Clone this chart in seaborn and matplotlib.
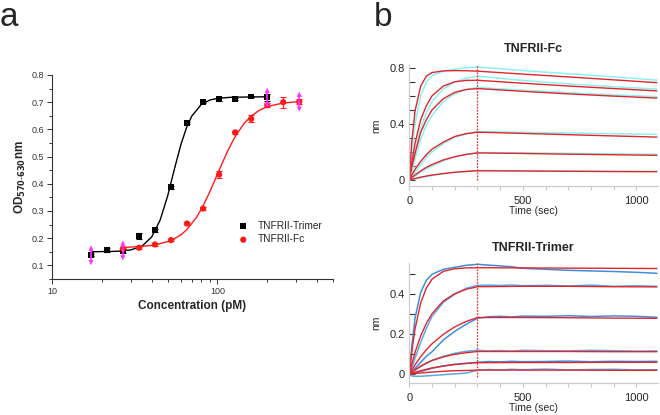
import numpy as np
import pandas as pd
import seaborn as sns
import matplotlib.pyplot as plt
from matplotlib.ticker import FixedLocator, MultipleLocator, NullFormatter, LogLocator

# ---- panel a: cell assay (OD vs concentration) ----
trimer_conc = [17.2, 21.5, 26.8, 33.6, 41.9, 52.4, 65.5, 81.9, 102.4, 128, 160, 200]
trimer_od = [0.137, 0.157, 0.153, 0.208, 0.229, 0.387, 0.625, 0.701, 0.712, 0.712, 0.721, 0.718]
trimer_err = [0.004, 0.008, 0.006, 0.010, 0.005, 0.005, 0.004, 0.004, 0.006, 0.004, 0.003, 0.012]

fc_conc = [26.8, 33.6, 41.9, 52.4, 65.5, 81.9, 102.4, 128, 160, 200, 250, 312.5]
fc_od = [0.161, 0.165, 0.177, 0.193, 0.254, 0.309, 0.434, 0.589, 0.639, 0.689, 0.700, 0.702]
fc_err = [0.004, 0.004, 0.004, 0.005, 0.005, 0.006, 0.012, 0.006, 0.013, 0.008, 0.020, 0.008]

# fitted dose-response curves
trimer_fit_conc = [17.2, 25, 30, 35, 40, 45, 50, 55, 60, 65, 70, 80, 90, 100, 120, 150, 200]
trimer_fit_od = [0.150, 0.152, 0.157, 0.171, 0.204, 0.266, 0.355, 0.455, 0.542, 0.606,
                 0.649, 0.692, 0.708, 0.714, 0.718, 0.719, 0.720]
fc_fit_conc = [26.8, 33.6, 41.9, 52.4, 60, 65.5, 75, 81.9, 90, 102.4, 115, 128, 145, 160,
               180, 200, 250, 312.5]
fc_fit_od = [0.166, 0.169, 0.175, 0.191, 0.212, 0.232, 0.278, 0.319, 0.371, 0.450, 0.519,
             0.574, 0.622, 0.649, 0.671, 0.684, 0.697, 0.702]

# points marked with magenta arrows
flag_conc = [17.2, 26.8, 200, 312.5]
flag_od = [0.137, 0.155, 0.716, 0.702]

# ---- panel b: BLI sensorgrams ----
switch_time = 300
fit_time = [0, 10, 25, 50, 75, 100, 150, 200, 250, 300, 500, 700, 900, 1090]
obs_time = [0, 10, 25, 50, 75, 100, 150, 200, 250, 300, 350, 400, 450, 500, 600, 700,
            800, 900, 1000, 1090]

fc_fit = [
    [0, 0.26, 0.49, 0.67, 0.74, 0.766, 0.778, 0.78, 0.779, 0.776, 0.755, 0.735, 0.714, 0.694],
    [0, 0.12, 0.26, 0.43, 0.53, 0.60, 0.67, 0.70, 0.71, 0.711, 0.69, 0.67, 0.652, 0.635],
    [0, 0.087, 0.19, 0.34, 0.43, 0.50, 0.58, 0.625, 0.645, 0.652, 0.632, 0.614, 0.598, 0.584],
    [0, 0.032, 0.076, 0.133, 0.18, 0.22, 0.27, 0.31, 0.33, 0.341, 0.332, 0.323, 0.314, 0.306],
    [0, 0.015, 0.036, 0.065, 0.09, 0.11, 0.143, 0.166, 0.182, 0.193, 0.189, 0.184, 0.18, 0.176],
    [0, 0.004, 0.01, 0.02, 0.028, 0.035, 0.046, 0.055, 0.061, 0.066, 0.064, 0.062, 0.06, 0.059],
]
fc_obs = [
    [0, 0.18, 0.40, 0.60, 0.70, 0.745, 0.775, 0.79, 0.80, 0.805, 0.80, 0.793, 0.787, 0.78,
     0.769, 0.758, 0.746, 0.735, 0.723, 0.712],
    [0, 0.08, 0.20, 0.37, 0.48, 0.56, 0.65, 0.70, 0.725, 0.74, 0.733, 0.725, 0.717, 0.71,
     0.697, 0.685, 0.675, 0.665, 0.656, 0.648],
    [0, 0.06, 0.15, 0.29, 0.39, 0.46, 0.56, 0.615, 0.645, 0.66, 0.655, 0.65, 0.645, 0.64,
     0.631, 0.622, 0.614, 0.607, 0.6, 0.594],
    [0, 0.02, 0.055, 0.11, 0.16, 0.20, 0.26, 0.305, 0.33, 0.345, 0.344, 0.343, 0.341, 0.34,
     0.337, 0.335, 0.332, 0.33, 0.327, 0.325],
    [0, 0.01, 0.027, 0.055, 0.08, 0.10, 0.137, 0.165, 0.183, 0.195, 0.195, 0.194, 0.194, 0.194,
     0.192, 0.19, 0.188, 0.186, 0.184, 0.183],
    [0, 0.003, 0.008, 0.016, 0.024, 0.032, 0.044, 0.054, 0.061, 0.067, 0.067, 0.066, 0.066, 0.066,
     0.065, 0.064, 0.064, 0.063, 0.062, 0.062],
]

trimer_fit = [
    [0, 0.105, 0.226, 0.357, 0.432, 0.476, 0.515, 0.528, 0.532, 0.533, 0.532, 0.531, 0.53, 0.529],
    [0, 0.047, 0.109, 0.192, 0.255, 0.303, 0.367, 0.403, 0.425, 0.438, 0.44, 0.44, 0.438, 0.437],
    [0, 0.02, 0.047, 0.088, 0.123, 0.153, 0.20, 0.237, 0.264, 0.284, 0.284, 0.283, 0.281, 0.28],
    [0, 0.0096, 0.023, 0.041, 0.056, 0.069, 0.087, 0.10, 0.108, 0.114, 0.114, 0.114, 0.113, 0.113],
    [0, 0.004, 0.01, 0.018, 0.025, 0.032, 0.041, 0.049, 0.054, 0.058, 0.059, 0.059, 0.06, 0.06],
    [0, 0.0015, 0.0035, 0.0065, 0.009, 0.011, 0.015, 0.018, 0.019, 0.021, 0.021, 0.021, 0.02, 0.02],
]
trimer_obs = [
    [0, 0.13, 0.28, 0.41, 0.47, 0.50, 0.525, 0.535, 0.545, 0.55, 0.546, 0.542, 0.538, 0.53,
     0.525, 0.52, 0.517, 0.514, 0.51, 0.505],
    [0, 0.03, 0.08, 0.16, 0.23, 0.29, 0.36, 0.40, 0.43, 0.445, 0.446, 0.444, 0.447, 0.443,
     0.445, 0.442, 0.446, 0.44, 0.443, 0.44],
    [0, 0.01, 0.03, 0.06, 0.09, 0.113, 0.172, 0.215, 0.25, 0.28, 0.288, 0.29, 0.287, 0.291,
     0.29, 0.293, 0.289, 0.292, 0.29, 0.285],
    [0, 0.008, 0.02, 0.038, 0.055, 0.07, 0.09, 0.105, 0.115, 0.12, 0.117, 0.119, 0.116, 0.12,
     0.118, 0.117, 0.12, 0.118, 0.116, 0.117],
    [0, 0.002, 0.006, 0.014, 0.022, 0.03, 0.042, 0.05, 0.055, 0.06, 0.064, 0.062, 0.065, 0.063,
     0.064, 0.066, 0.063, 0.065, 0.064, 0.065],
    [0, -0.008, -0.01, -0.01, -0.008, -0.006, -0.002, 0.002, 0.006, 0.02, 0.024, 0.022, 0.025,
     0.023, 0.026, 0.022, 0.024, 0.025, 0.022, 0.023],
]


def long_form(t, curves):
    parts = [pd.DataFrame({'time': t, 'nm': c, 'curve': i}) for i, c in enumerate(curves)]
    return pd.concat(parts, ignore_index=True)


sns.set_theme(style="ticks")
plt.rcParams['font.family'] = ['Liberation Sans', 'DejaVu Sans']

fig = plt.figure(figsize=(6.6, 4.15), dpi=100)
ax_a = fig.add_axes([0.0788, 0.3277, 0.4258, 0.4916])
ax_b1 = fig.add_axes([0.6202, 0.5518, 0.3768, 0.2916])
ax_b2 = fig.add_axes([0.6202, 0.0764, 0.3768, 0.2891])

# ---------------- panel a ----------------
ax = ax_a
sns.lineplot(x=trimer_fit_conc, y=trimer_fit_od, color='black', lw=1.0, ax=ax)
sns.lineplot(x=fc_fit_conc, y=fc_fit_od, color='#ff1a1a', lw=1.0, ax=ax)
ax.errorbar(trimer_conc, trimer_od, yerr=trimer_err, fmt='none', ecolor='black',
            elinewidth=0.8, capsize=2, capthick=0.8)
ax.errorbar(fc_conc, fc_od, yerr=fc_err, fmt='none', ecolor='#ff1a1a',
            elinewidth=0.8, capsize=2, capthick=0.8)
sns.scatterplot(x=trimer_conc, y=trimer_od, marker='s', s=18, color='black',
                edgecolor='none', label='TNFRII-Trimer', ax=ax, zorder=4)
sns.scatterplot(x=fc_conc, y=fc_od, marker='o', s=20, color='#ff1a1a',
                edgecolor='none', label='TNFRII-Fc', ax=ax, zorder=4)

flag_span = 0.027
ax.errorbar(flag_conc, flag_od, yerr=flag_span, fmt='none', ecolor='#ff33ff',
            elinewidth=1.2, zorder=5)
sns.scatterplot(x=flag_conc, y=np.array(flag_od) + flag_span, marker='^', s=14,
                color='#ff33ff', edgecolor='none', ax=ax, zorder=5)
sns.scatterplot(x=flag_conc, y=np.array(flag_od) - flag_span, marker='v', s=14,
                color='#ff33ff', edgecolor='none', ax=ax, zorder=5)

ax.set_xscale('log')
ax.set_xlim(10, 500)
ax.set_ylim(0.05, 0.8)
ax.xaxis.set_major_locator(FixedLocator([10, 100]))
ax.xaxis.set_major_formatter(plt.FixedFormatter(['10', '100']))
ax.xaxis.set_minor_locator(LogLocator(base=10, subs=np.arange(2, 10)))
ax.xaxis.set_minor_formatter(NullFormatter())
ax.yaxis.set_major_locator(FixedLocator([0.1, 0.2, 0.3, 0.4, 0.5, 0.6, 0.7, 0.8]))
ax.yaxis.set_minor_locator(MultipleLocator(0.05))
ax.tick_params(which='both', direction='out', colors='#333333', labelsize=6.5, width=0.7)
ax.tick_params(which='major', length=3.5, pad=2)
ax.tick_params(which='minor', length=2)
for s in ['top', 'right']:
    ax.spines[s].set_visible(False)
for s in ['left', 'bottom']:
    ax.spines[s].set_color('#333333')
    ax.spines[s].set_linewidth(0.8)
ax.set_xlabel('Concentration (pM)', fontsize=8.5, fontweight='bold', labelpad=3)
ax.set_ylabel('OD$_{\\mathbf{570\\text{-}630}}$nm', fontsize=8.5, fontweight='bold', labelpad=3)
leg = ax.legend(loc='lower left', bbox_to_anchor=(0.63, 0.15), frameon=False, fontsize=7.3,
                handletextpad=0.4, labelspacing=0.35, borderaxespad=0, markerscale=1.0)

# ---------------- panel b ----------------
panels = [
    (ax_b1, 'TNFRII-Fc', fc_fit, fc_obs, ['#8af2f4'], (-0.043, 0.82), [0, 0.4, 0.8]),
    (ax_b2, 'TNFRII-Trimer', trimer_fit, trimer_obs, ['#3d8fdc', '#59a9ec'], (-0.045, 0.555),
     [0, 0.2, 0.4]),
]
for ax, title, fits, obs, obs_colors, ylim, yticks in panels:
    obs_df = long_form(obs_time, obs)
    for i in range(len(obs)):
        sns.lineplot(data=obs_df[obs_df['curve'] == i], x='time', y='nm',
                     color=obs_colors[i % len(obs_colors)], lw=1.1, estimator=None,
                     sort=False, ax=ax)
    fit_df = long_form(fit_time, fits)
    sns.lineplot(data=fit_df, x='time', y='nm', units='curve', estimator=None,
                 color='#e3242b', lw=1.0, sort=False, ax=ax)
    ax.axvline(switch_time, color='#ee3030', lw=0.9, ls=(0, (1.5, 1)), ymin=0.05, ymax=1)
    ax.set_xlim(0, 1095)
    ax.set_ylim(*ylim)
    ax.xaxis.set_major_locator(FixedLocator([0, 500, 1000]))
    ax.xaxis.set_minor_locator(MultipleLocator(100))
    ax.yaxis.set_major_locator(FixedLocator(yticks))
    ax.yaxis.set_major_formatter(plt.FuncFormatter(lambda v, p: '0' if v == 0 else f'{v:g}'))
    ax.yaxis.set_minor_locator(MultipleLocator(0.1))
    ax.tick_params(axis='y', which='both', direction='in', length=4, width=0.8,
                   color='#333333', labelsize=8, pad=3)
    ax.tick_params(axis='x', which='both', direction='out', length=3, width=0.8,
                   color='#c8c8c8', labelsize=8, pad=4)
    for s in ['top', 'right']:
        ax.spines[s].set_visible(False)
    for s in ['left', 'bottom']:
        ax.spines[s].set_color('#cccccc')
        ax.spines[s].set_linewidth(0.9)
    ax.set_title(title, fontsize=9, fontweight='bold', pad=9)
    ax.set_xlabel('Time (sec)', fontsize=7.5, labelpad=0)
    ax.set_ylabel('nm', fontsize=7.5, labelpad=6)

fig.text(0.0, 0.995, 'a', fontsize=24, va='top', ha='left')
fig.text(0.566, 0.995, 'b', fontsize=24, va='top', ha='left')

plt.savefig('out.png', dpi=100)
